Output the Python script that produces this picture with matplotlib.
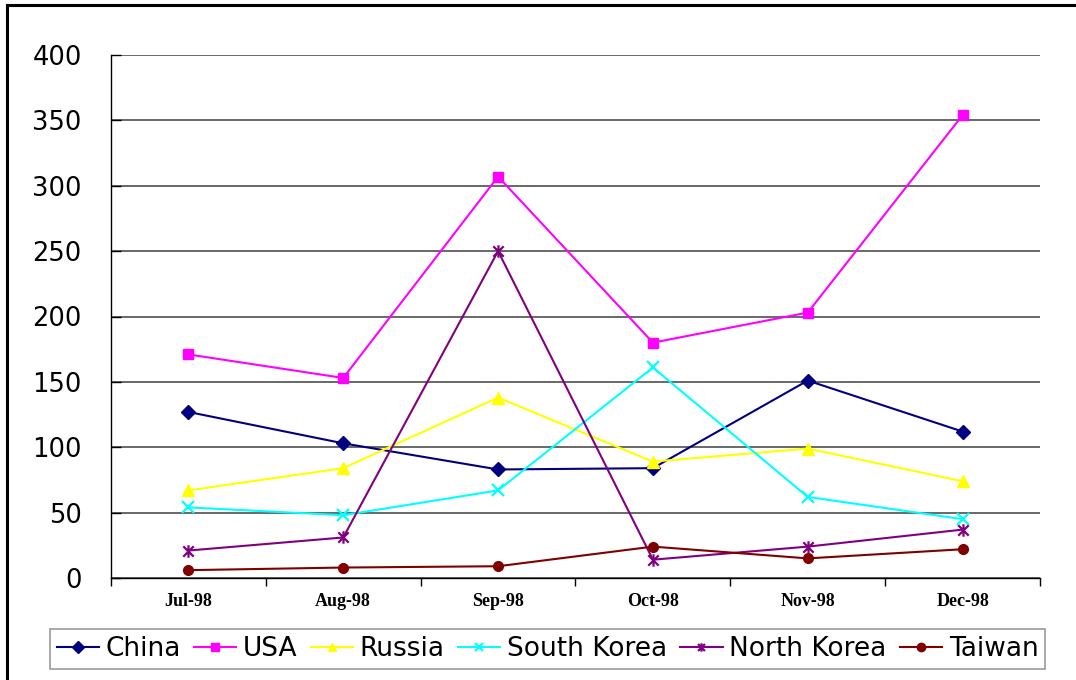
import matplotlib

matplotlib.use("Agg")
import matplotlib.pyplot as plt
from matplotlib.lines import Line2D
from matplotlib.path import Path


MONTHS = ["Jul-98", "Aug-98", "Sep-98", "Oct-98", "Nov-98", "Dec-98"]

china = [127, 103, 83, 84, 151, 112]
usa = [171, 153, 307, 180, 203, 354]
russia = [67, 84, 138, 89, 99, 74]
south_korea = [54, 48, 67, 161, 62, 45]
north_korea = [21, 31, 250, 14, 24, 37]
taiwan = [6, 8, 9, 24, 15, 22]

Y_TICKS = [0, 50, 100, 150, 200, 250, 300, 350, 400]

# Excel-style "star" marker: an X with a vertical bar through it
STAR = Path(
    [(-1, -1), (1, 1), (-1, 1), (1, -1), (0, -1.2), (0, 1.2)],
    [Path.MOVETO, Path.LINETO, Path.MOVETO, Path.LINETO, Path.MOVETO, Path.LINETO],
)

SERIES = [
    ("China", china, "#000080", "D", 7),
    ("USA", usa, "#FF00FF", "s", 7),
    ("Russia", russia, "#FFFF00", "^", 9),
    ("South Korea", south_korea, "#00FFFF", "x", 8),
    ("North Korea", north_korea, "#800080", STAR, 9),
    ("Taiwan", taiwan, "#800000", "o", 7),
]

W, H = 1076, 680
fig = plt.figure(figsize=(W / 100, H / 100), dpi=100)
ax = fig.add_axes([111 / W, (H - 578) / H, (1040 - 111) / W, (578 - 55) / H])

x = list(range(len(MONTHS)))
handles = []
for name, values, color, marker, size in SERIES:
    line, = ax.plot(
        x,
        values,
        color=color,
        marker=marker,
        markersize=size,
        markeredgewidth=1.6 if marker in ("x", STAR) else 1.0,
        markeredgecolor=color,
        markerfacecolor=color,
        linewidth=1.5,
        label=name,
        zorder=3,
    )
    handles.append(line)

ax.set_xlim(-0.5, len(MONTHS) - 0.5)
ax.set_ylim(0, 400)
ax.set_yticks(Y_TICKS)
ax.set_xticks(x)
ax.set_xticklabels(MONTHS, family="Liberation Serif", fontweight="bold", fontsize=13)
ax.set_xticks([i - 0.5 for i in range(len(MONTHS) + 1)], minor=True)

ax.tick_params(axis="x", which="major", length=0, pad=11)
ax.tick_params(axis="x", which="minor", length=6, width=1, direction="out", color="black")
ax.tick_params(axis="y", direction="in", length=7, width=1, pad=21, labelsize=18.5, color="black")

ax.grid(True, axis="y", color="#404040", linewidth=1.1, zorder=1)
ax.set_axisbelow(True)
for side in ("top", "right"):
    ax.spines[side].set_visible(False)
for side in ("left", "bottom"):
    ax.spines[side].set_color("black")
    ax.spines[side].set_linewidth(1.0)

legend = fig.legend(
    handles=handles,
    loc="center",
    bbox_to_anchor=(50 / W, (H - 671) / H, 995 / W, 44 / H),
    mode="expand",
    ncol=6,
    fontsize=19,
    frameon=True,
    fancybox=False,
    handlelength=1.6,
    handletextpad=0.25,
    columnspacing=0.4,
    borderaxespad=0,
    borderpad=0.25,
)
legend.get_frame().set_edgecolor("#808080")
legend.get_frame().set_linewidth(1.2)
for h in legend.legend_handles:
    h.set_markersize(6)

# outer chart-area border (only top and left are visible in the crop)
fig.add_artist(Line2D([7 / W, 1], [1 - 5 / H, 1 - 5 / H], color="black", linewidth=2.2))
fig.add_artist(Line2D([7 / W, 7 / W], [0, 1 - 5 / H], color="black", linewidth=2.2))

fig.savefig("out.png", dpi=100)
